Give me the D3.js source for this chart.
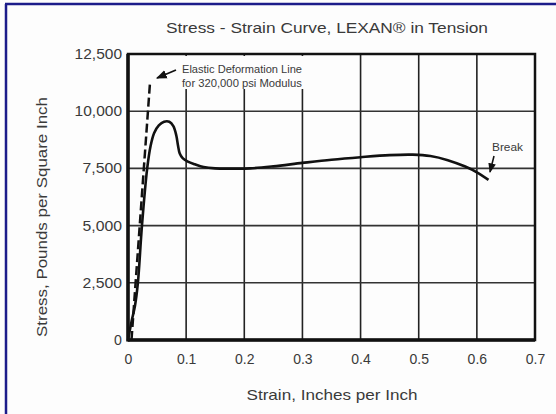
<!DOCTYPE html>
<html><head><meta charset="utf-8">
<script src="https://cdn.jsdelivr.net/npm/d3@7"></script>
<style>
html,body{margin:0;padding:0;background:#fff;}
svg{display:block;}
text{font-family:"Liberation Sans",Arial,sans-serif;fill:#3a3a3a;}
</style></head>
<body>
<script>
const title = "Stress - Strain Curve, LEXAN\u00AE in Tension";
const xLabel = "Strain, Inches per Inch";
const yLabel = "Stress, Pounds per Square Inch";
const xTicks = [0, 0.1, 0.2, 0.3, 0.4, 0.5, 0.6, 0.7];
const xTickLabels = ["0", "0.1", "0.2", "0.3", "0.4", "0.5", "0.6", "0.7"];
const yTicks = [0, 2500, 5000, 7500, 10000, 12500];
const yTickLabels = ["0", "2,500", "5,000", "7,500", "10,000", "12,500"];
const strain = [0, 0.006, 0.012, 0.017, 0.024, 0.033, 0.039, 0.045, 0.053, 0.062, 0.071, 0.078, 0.083, 0.086, 0.089, 0.094, 0.103, 0.115, 0.13, 0.15, 0.18, 0.21, 0.25, 0.30, 0.35, 0.40, 0.45, 0.49, 0.52, 0.55, 0.58, 0.60, 0.62];
const stress = [0, 800, 1500, 2500, 5000, 7500, 8500, 9050, 9380, 9540, 9540, 9350, 8950, 8500, 8150, 7950, 7800, 7680, 7560, 7500, 7490, 7500, 7590, 7740, 7880, 7990, 8080, 8100, 8040, 7860, 7580, 7330, 7000];
const elasticStrain = [0.006, 0.038];
const elasticStress = [0, 11300];
const elasticNote = ["Elastic Deformation Line", "for 320,000 psi Modulus"];
const breakNote = "Break";

const W = 556, H = 414;
const svg = d3.select("body").append("svg").attr("width", W).attr("height", H);
svg.append("rect").attr("width", W).attr("height", H).attr("fill", "#fdfdfd");
svg.append("line").attr("x1", 5).attr("x2", W).attr("y1", 4).attr("y2", 4).attr("stroke", "#1c1c8a").attr("stroke-width", 2.5);
svg.append("line").attr("x1", 6).attr("x2", 6).attr("y1", 4).attr("y2", H).attr("stroke", "#1c1c8a").attr("stroke-width", 2.5);

const x = d3.scaleLinear().domain([0, 0.7]).range([128, 535]);
const y = d3.scaleLinear().domain([0, 12500]).range([340, 54]);

const g = svg.append("g");
g.selectAll(".vg").data(xTicks.slice(1, -1)).join("line")
  .attr("x1", d => x(d)).attr("x2", d => x(d)).attr("y1", y(12500)).attr("y2", y(0))
  .attr("stroke", "#222").attr("stroke-width", 1.6);
g.selectAll(".hg").data(yTicks.slice(1, -1)).join("line")
  .attr("x1", x(0)).attr("x2", x(0.7)).attr("y1", d => y(d)).attr("y2", d => y(d))
  .attr("stroke", "#333").attr("stroke-width", 1.6);

// annotation mask box (hides grid behind note)
svg.append("rect").attr("x", 176).attr("y", y(12500) + 2).attr("width", 134).attr("height", 33).attr("fill", "#fdfdfd");

svg.append("rect").attr("x", x(0)).attr("y", y(12500)).attr("width", x(0.7) - x(0)).attr("height", y(0) - y(12500))
  .attr("fill", "none").attr("stroke", "#111").attr("stroke-width", 2.5);
svg.append("line").attr("x1", x(0)).attr("x2", x(0)).attr("y1", y(12500)).attr("y2", y(0) + 1.5).attr("stroke", "#111").attr("stroke-width", 3.5);
svg.append("line").attr("x1", x(0)).attr("x2", x(0.7)).attr("y1", y(0)).attr("y2", y(0)).attr("stroke", "#111").attr("stroke-width", 3.5);

const xAxis = d3.axisBottom(x).tickValues(xTicks).tickFormat((d, i) => xTickLabels[i]).tickSize(0).tickPadding(14);
const xa = svg.append("g").attr("transform", `translate(0,${y(0)})`).call(xAxis);
xa.select(".domain").remove();
xa.selectAll("text").attr("font-size", 14).attr("fill", "#3a3a3a").attr("font-family", "Liberation Sans, Arial, sans-serif");
const yAxis = d3.axisLeft(y).tickValues(yTicks).tickFormat((d, i) => yTickLabels[i]).tickSize(0).tickPadding(6);
const ya = svg.append("g").attr("transform", `translate(${x(0)},0)`).call(yAxis);
ya.select(".domain").remove();
ya.selectAll("text").attr("font-size", 14).attr("fill", "#3a3a3a").attr("font-family", "Liberation Sans, Arial, sans-serif")
  .attr("textLength", (d, i) => yTickLabels[i].length * 7.9).attr("lengthAdjust", "spacingAndGlyphs");

svg.append("text").attr("x", 327).attr("y", 33).attr("text-anchor", "middle").attr("font-size", 14.5)
  .attr("textLength", 322).attr("lengthAdjust", "spacingAndGlyphs").text(title);
svg.append("text").attr("x", 332).attr("y", 400).attr("text-anchor", "middle").attr("font-size", 14.5)
  .attr("textLength", 171).attr("lengthAdjust", "spacingAndGlyphs").text(xLabel);
svg.append("text").attr("transform", `translate(47,217) rotate(-90)`).attr("text-anchor", "middle").attr("font-size", 14.5)
  .attr("textLength", 240).attr("lengthAdjust", "spacingAndGlyphs").text(yLabel);

const line = d3.line().x(d => x(d[0])).y(d => y(d[1]));
svg.append("path").datum(elasticStrain.map((s, i) => [s, elasticStress[i]]))
  .attr("d", line).attr("fill", "none").attr("stroke", "#111").attr("stroke-width", 2.5).attr("stroke-dasharray", "9,4");

const curve = d3.line().x(d => x(d[0])).y(d => y(d[1])).curve(d3.curveCatmullRom.alpha(0.5));
svg.append("path").datum(strain.map((s, i) => [s, stress[i]]))
  .attr("d", curve).attr("fill", "none").attr("stroke", "#111").attr("stroke-width", 2.6).attr("stroke-linejoin", "round");

svg.append("defs").append("marker").attr("id", "ah").attr("viewBox", "0 0 10 10").attr("refX", 9).attr("refY", 5)
  .attr("markerWidth", 6).attr("markerHeight", 6).attr("orient", "auto")
  .append("path").attr("d", "M0,1 L10,5 L0,9 Z").attr("fill", "#111");
const en = svg.append("text").attr("x", 182).attr("y", 73).attr("font-size", 11);
en.selectAll("tspan").data(elasticNote).join("tspan").attr("x", 182).attr("dy", (d, i) => i ? 14 : 0)
  .attr("textLength", 120).attr("lengthAdjust", "spacingAndGlyphs").text(d => d);
svg.append("line").attr("x1", 176).attr("y1", 70).attr("x2", 157).attr("y2", 78)
  .attr("stroke", "#111").attr("stroke-width", 1.8).attr("marker-end", "url(#ah)");
svg.append("text").attr("x", 492).attr("y", 151).attr("font-size", 10.5)
  .attr("textLength", 31).attr("lengthAdjust", "spacingAndGlyphs").text(breakNote);
svg.append("line").attr("x1", 494).attr("y1", 156).attr("x2", 490).attr("y2", 172)
  .attr("stroke", "#111").attr("stroke-width", 1.6).attr("marker-end", "url(#ah)");
</script>
</body></html>
